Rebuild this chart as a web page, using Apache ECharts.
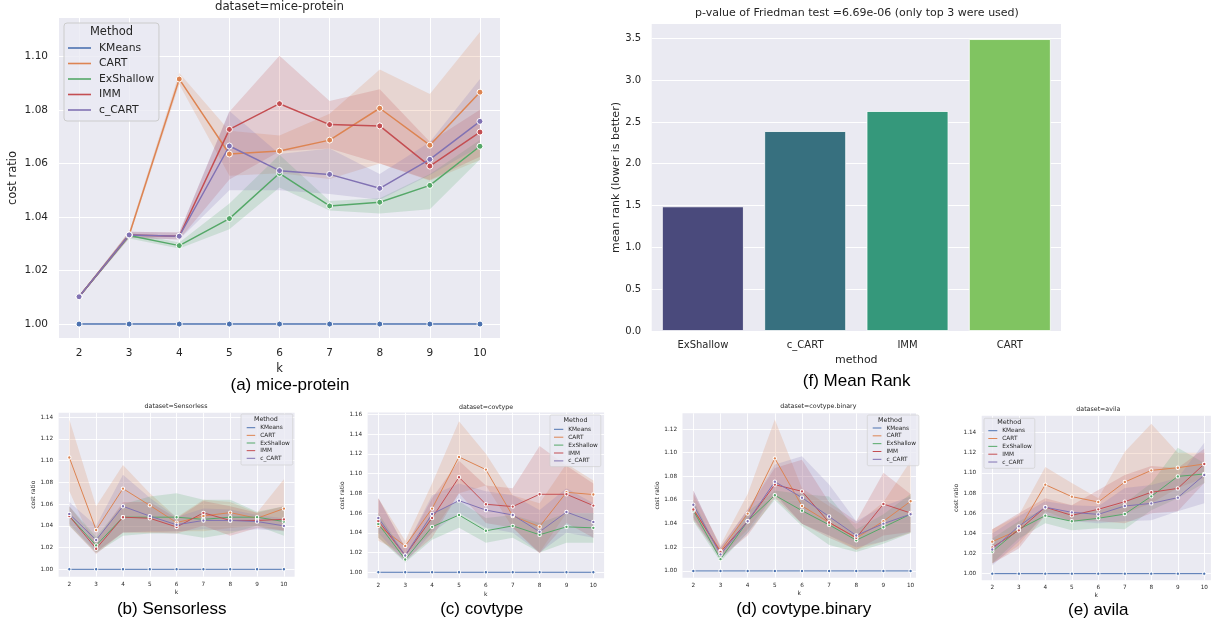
<!DOCTYPE html>
<html>
<head>
<meta charset="utf-8">
<script src="https://cdn.jsdelivr.net/npm/echarts@6/dist/echarts.min.js"></script>
<style>html,body{margin:0;padding:0;background:#ffffff}#chart{width:1219px;height:628px}</style>
</head>
<body>
<div id="chart"></div>
<script>
// ---------------- DATA ----------------
const kValues = [2, 3, 4, 5, 6, 7, 8, 9, 10];
const methods = ['KMeans', 'CART', 'ExShallow', 'IMM', 'c_CART'];
const kmeansCost = [1, 1, 1, 1, 1, 1, 1, 1, 1];

// (a) mice-protein
const miceTicks = [1.00, 1.02, 1.04, 1.06, 1.08, 1.10];
const miceCART = [1.0102, 1.0333, 1.0915, 1.0635, 1.0646, 1.0687, 1.0806, 1.0668, 1.0866];
const miceCARTLo = [1.0098, 1.0322, 1.0895, 1.0554, 1.0563, 1.0542, 1.0600, 1.0535, 1.0613];
const miceCARTHi = [1.0106, 1.0345, 1.0938, 1.0722, 1.0704, 1.0785, 1.0951, 1.0859, 1.1091];
const miceEx = [1.0102, 1.0331, 1.0293, 1.0394, 1.0563, 1.0441, 1.0455, 1.0518, 1.0664];
const miceExLo = [1.0098, 1.0320, 1.0282, 1.0354, 1.0510, 1.0424, 1.0413, 1.0429, 1.0615];
const miceExHi = [1.0106, 1.0342, 1.0305, 1.0450, 1.0632, 1.0460, 1.0470, 1.0560, 1.0687];
const miceIMM = [1.0102, 1.0333, 1.0328, 1.0727, 1.0823, 1.0745, 1.0740, 1.0590, 1.0717];
const miceIMMLo = [1.0098, 1.0322, 1.0316, 1.0540, 1.0644, 1.0656, 1.0600, 1.0538, 1.0625];
const miceIMMHi = [1.0106, 1.0345, 1.0342, 1.0793, 1.1002, 1.0833, 1.0877, 1.0681, 1.0800];
const miceCC = [1.0102, 1.0333, 1.0328, 1.0665, 1.0573, 1.0559, 1.0507, 1.0615, 1.0757];
const miceCCLo = [1.0098, 1.0322, 1.0316, 1.0500, 1.0500, 1.0486, 1.0464, 1.0557, 1.0663];
const miceCCHi = [1.0106, 1.0345, 1.0342, 1.0796, 1.0635, 1.0656, 1.0560, 1.0680, 1.0915];

// (b) Sensorless
const sensTicks = [1.00, 1.02, 1.04, 1.06, 1.08, 1.10, 1.12, 1.14];
const sensCART = [1.1029, 1.0362, 1.0743, 1.0589, 1.0430, 1.0491, 1.0522, 1.0470, 1.0559];
const sensCARTLo = [1.072, 1.016, 1.034, 1.034, 1.035, 1.035, 1.038, 1.040, 1.035];
const sensCARTHi = [1.138, 1.058, 1.096, 1.070, 1.048, 1.064, 1.062, 1.052, 1.083];
const sensEx = [1.049, 1.022, 1.048, 1.048, 1.048, 1.046, 1.048, 1.048, 1.044];
const sensExLo = [1.040, 1.015, 1.031, 1.033, 1.033, 1.029, 1.033, 1.040, 1.031];
const sensExHi = [1.058, 1.030, 1.060, 1.067, 1.070, 1.064, 1.064, 1.053, 1.058];
const sensIMM = [1.049, 1.019, 1.048, 1.047, 1.039, 1.052, 1.045, 1.045, 1.046];
const sensIMMLo = [1.040, 1.014, 1.034, 1.034, 1.033, 1.040, 1.031, 1.038, 1.036];
const sensIMMHi = [1.058, 1.027, 1.062, 1.062, 1.047, 1.063, 1.058, 1.052, 1.058];
const sensCC = [1.051, 1.027, 1.058, 1.049, 1.041, 1.045, 1.045, 1.044, 1.040];
const sensCCLo = [1.042, 1.016, 1.034, 1.035, 1.035, 1.037, 1.035, 1.037, 1.035];
const sensCCHi = [1.062, 1.040, 1.087, 1.066, 1.048, 1.056, 1.055, 1.050, 1.047];

// (c) covtype
const covTicks = [1.00, 1.02, 1.04, 1.06, 1.08, 1.10, 1.12, 1.14, 1.16];
const covCART = [1.047, 1.0267, 1.0645, 1.1168, 1.104, 1.057, 1.0462, 1.081, 1.0787];
const covCARTLo = [1.032, 1.018, 1.040, 1.080, 1.088, 1.045, 1.020, 1.060, 1.060];
const covCARTHi = [1.075, 1.032, 1.090, 1.153, 1.120, 1.078, 1.070, 1.110, 1.093];
const covEx = [1.049, 1.013, 1.046, 1.058, 1.042, 1.047, 1.038, 1.046, 1.045];
const covExLo = [1.035, 1.010, 1.033, 1.045, 1.030, 1.035, 1.020, 1.030, 1.030];
const covExHi = [1.060, 1.018, 1.060, 1.072, 1.055, 1.058, 1.050, 1.060, 1.060];
const covIMM = [1.052, 1.017, 1.055, 1.0962, 1.0689, 1.0665, 1.079, 1.079, 1.0675];
const covIMMLo = [1.035, 1.012, 1.035, 1.080, 1.050, 1.045, 1.019, 1.050, 1.035];
const covIMMHi = [1.075, 1.025, 1.075, 1.113, 1.088, 1.085, 1.128, 1.108, 1.090];
const covCC = [1.055, 1.017, 1.059, 1.0726, 1.063, 1.058, 1.041, 1.061, 1.051];
const covCCLo = [1.040, 1.010, 1.040, 1.060, 1.045, 1.040, 1.020, 1.040, 1.035];
const covCCHi = [1.075, 1.025, 1.078, 1.090, 1.082, 1.078, 1.063, 1.085, 1.070];

// (d) covtype.binary
const binTicks = [1.00, 1.02, 1.04, 1.06, 1.08, 1.10, 1.12];
const binCART = [1.052, 1.017, 1.0485, 1.0952, 1.055, 1.041, 1.028, 1.042, 1.0589];
const binCARTLo = [1.045, 1.012, 1.035, 1.065, 1.040, 1.030, 1.018, 1.025, 1.032];
const binCARTHi = [1.065, 1.022, 1.065, 1.128, 1.070, 1.055, 1.040, 1.058, 1.093];
const binEx = [1.051, 1.010, 1.042, 1.064, 1.051, 1.039, 1.026, 1.037, 1.048];
const binExLo = [1.042, 1.008, 1.032, 1.060, 1.038, 1.022, 1.016, 1.023, 1.032];
const binExHi = [1.060, 1.014, 1.050, 1.068, 1.065, 1.063, 1.035, 1.048, 1.065];
const binIMM = [1.052, 1.016, 1.042, 1.073, 1.0673, 1.041, 1.028, 1.0566, 1.049];
const binIMMLo = [1.043, 1.011, 1.030, 1.062, 1.040, 1.028, 1.018, 1.030, 1.033];
const binIMMHi = [1.068, 1.020, 1.052, 1.087, 1.094, 1.058, 1.042, 1.083, 1.065];
const binCC = [1.056, 1.014, 1.042, 1.0755, 1.062, 1.046, 1.030, 1.040, 1.048];
const binCCLo = [1.045, 1.010, 1.032, 1.065, 1.040, 1.030, 1.020, 1.025, 1.033];
const binCCHi = [1.068, 1.020, 1.052, 1.090, 1.097, 1.073, 1.042, 1.055, 1.063];

// (e) avila
const aviTicks = [1.00, 1.02, 1.04, 1.06, 1.08, 1.10, 1.12, 1.14];
const aviCART = [1.0318, 1.0434, 1.0884, 1.0765, 1.0712, 1.091, 1.1026, 1.1052, 1.1089];
const aviCARTLo = [1.010, 1.028, 1.062, 1.052, 1.055, 1.060, 1.070, 1.085, 1.095];
const aviCARTHi = [1.044, 1.058, 1.106, 1.090, 1.075, 1.121, 1.149, 1.120, 1.120];
const aviEx = [1.022, 1.044, 1.0576, 1.052, 1.055, 1.0592, 1.0768, 1.0966, 1.099];
const aviExLo = [1.010, 1.035, 1.050, 1.043, 1.045, 1.044, 1.063, 1.075, 1.090];
const aviExHi = [1.035, 1.052, 1.065, 1.060, 1.063, 1.070, 1.090, 1.125, 1.110];
const aviIMM = [1.026, 1.043, 1.066, 1.0579, 1.0639, 1.0715, 1.0808, 1.0847, 1.1089];
const aviIMMLo = [1.010, 1.025, 1.058, 1.052, 1.052, 1.050, 1.060, 1.062, 1.090];
const aviIMMHi = [1.044, 1.060, 1.075, 1.068, 1.083, 1.098, 1.107, 1.105, 1.124];
const aviCC = [1.024, 1.047, 1.066, 1.0609, 1.0589, 1.0672, 1.0698, 1.0755, 1.098];
const aviCCLo = [1.008, 1.032, 1.058, 1.052, 1.050, 1.052, 1.053, 1.062, 1.070];
const aviCCHi = [1.040, 1.057, 1.072, 1.068, 1.067, 1.085, 1.088, 1.095, 1.130];

// (f) Mean rank
const rankMethods = ['ExShallow', 'c_CART', 'IMM', 'CART'];
const meanRanks = [1.49, 2.39, 2.63, 3.49];
const rankTicks = [0, 0.5, 1.0, 1.5, 2.0, 2.5, 3.0, 3.5];

// ---------------- STYLE / LAYOUT ----------------
const FONT = '"DejaVu Sans", sans-serif';
const TXT = '#262626';
const methodColors = { KMeans: '#4c72b0', CART: '#dd8452', ExShallow: '#55a868', IMM: '#c44e52', c_CART: '#8172b3' };
const barColors = ['#4a4a7c', '#37707f', '#35987b', '#80c461'];

function rgba(hex, a) {
  const n = parseInt(hex.slice(1), 16);
  return 'rgba(' + ((n >> 16) & 255) + ',' + ((n >> 8) & 255) + ',' + (n & 255) + ',' + a + ')';
}

const panels = [
  { title: 'dataset=mice-protein', titleXY: [279.5, 6.5], caption: '(a) mice-protein', capXY: [290, 385.5],
    grid: { left: 59, top: 18, width: 441, height: 320 }, xMax: 10.4, yMin: 0.9948, yMax: 1.1143, ticks: miceTicks, big: true,
    lines: { CART: [miceCART, miceCARTLo, miceCARTHi], ExShallow: [miceEx, miceExLo, miceExHi], IMM: [miceIMM, miceIMMLo, miceIMMHi], c_CART: [miceCC, miceCCLo, miceCCHi] },
    yNameGap: 40, xNameGap: 25,
    legend: { left: 64, top: 23, pad: [19, 5, 5, 4], itemWidth: 23, lh: 12, gap: 3.5, fs: 10.8, textPad: 3, titleXY: [111.5, 32], titleFs: 11.5 } },
  { title: 'dataset=Sensorless', titleXY: [176, 406.3], caption: '(b) Sensorless', capXY: [171.7, 609.2],
    grid: { left: 58.6, top: 412.7, width: 236, height: 164 }, xMax: 10.4, yMin: 0.9932, yMax: 1.1442, ticks: sensTicks,
    lines: { CART: [sensCART, sensCARTLo, sensCARTHi], ExShallow: [sensEx, sensExLo, sensExHi], IMM: [sensIMM, sensIMMLo, sensIMMHi], c_CART: [sensCC, sensCCLo, sensCCHi] },
    yNameGap: 19, xNameGap: 12.8,
    legend: { left: 241, top: 414, pad: [10.45, 3, 3.45, 5.7], itemWidth: 8.5, lh: 6.5, gap: 1.15, fs: 5.8, textPad: 0, titleXY: [265.9, 419], titleFs: 6.4 } },
  { title: 'dataset=covtype', titleXY: [486, 407.8], caption: '(c) covtype', capXY: [481.7, 609.2],
    grid: { left: 367.6, top: 412.5, width: 236.5, height: 165.8 }, xMax: 10.4, yMin: 0.9939, yMax: 1.1618, ticks: covTicks,
    lines: { CART: [covCART, covCARTLo, covCARTHi], ExShallow: [covEx, covExLo, covExHi], IMM: [covIMM, covIMMLo, covIMMHi], c_CART: [covCC, covCCLo, covCCHi] },
    yNameGap: 21.3, xNameGap: 13.4,
    legend: { left: 550, top: 415, pad: [11.05, 3, 2.45, 4], itemWidth: 9.3, lh: 6.5, gap: 1.4, fs: 5.8, textPad: 0, titleXY: [575.5, 420.7], titleFs: 6.4 } },
  { title: 'dataset=covtype.binary', titleXY: [818.3, 406.3], caption: '(d) covtype.binary', capXY: [803.7, 609.7],
    grid: { left: 682.5, top: 413.3, width: 233.5, height: 164.4 }, xMax: 10.2, yMin: 0.9943, yMax: 1.1333, ticks: binTicks,
    lines: { CART: [binCART, binCARTLo, binCARTHi], ExShallow: [binEx, binExLo, binExHi], IMM: [binIMM, binIMMLo, binIMMHi], c_CART: [binCC, binCCLo, binCCHi] },
    yNameGap: 22, xNameGap: 12.3,
    legend: { left: 867.3, top: 415, pad: [9.75, 3, 3.15, 5.4], itemWidth: 8.7, lh: 6.5, gap: 1.33, fs: 5.8, textPad: 0, titleXY: [890, 420], titleFs: 6.4 } },
  { title: 'dataset=avila', titleXY: [1098.3, 409.5], caption: '(e) avila', capXY: [1098.3, 610.5],
    grid: { left: 981.7, top: 415.7, width: 229.2, height: 164.6 }, xMax: 10.25, yMin: 0.9934, yMax: 1.1569, ticks: aviTicks,
    lines: { CART: [aviCART, aviCARTLo, aviCARTHi], ExShallow: [aviEx, aviExLo, aviExHi], IMM: [aviIMM, aviIMMLo, aviIMMHi], c_CART: [aviCC, aviCCLo, aviCCHi] },
    yNameGap: 21, xNameGap: 12.2,
    legend: { left: 984, top: 418.3, pad: [9.15, 3, 3.05, 4.3], itemWidth: 9, lh: 6.5, gap: 1.33, fs: 5.8, textPad: 0, titleXY: [1009.3, 422.7], titleFs: 6.4 } }
];

const grids = [], xAxes = [], yAxes = [], legends = [], graphics = [];

function addText(text, xy, size, family, color) {
  graphics.push({ type: 'text', x: xy[0], y: xy[1], z: 100, silent: true,
    style: { text: text, font: 'normal ' + size + 'px ' + family, fill: color,
      align: 'center', verticalAlign: 'middle', textAlign: 'center', textVerticalAlign: 'middle' } });
}

const bandSeries = [], lineSeries = [];

panels.forEach(function (p, i) {
  const big = !!p.big;
  const tickFs = big ? 10.5 : 5.7;
  const nameFs = big ? 11.5 : 6;
  const gw = big ? 1 : 0.9;
  grids.push(Object.assign({ show: true, backgroundColor: '#eaeaf2', borderWidth: 0, containLabel: false }, p.grid));
  xAxes.push({ type: 'value', gridIndex: i, min: 1.6, max: p.xMax,
    axisLine: { show: false }, axisTick: { show: false, customValues: kValues },
    axisLabel: { customValues: kValues, fontSize: tickFs, color: TXT, fontFamily: FONT, margin: big ? 9.5 : 4.5, formatter: function (v) { return String(v); } },
    splitLine: { show: true, lineStyle: { color: '#ffffff', width: gw } },
    name: 'k', nameLocation: 'middle', nameGap: p.xNameGap, nameTextStyle: { fontSize: nameFs, color: TXT, fontFamily: FONT } });
  yAxes.push({ type: 'value', gridIndex: i, min: p.yMin, max: p.yMax,
    axisLine: { show: false }, axisTick: { show: false, customValues: p.ticks },
    axisLabel: { customValues: p.ticks, fontSize: tickFs, color: TXT, fontFamily: FONT, margin: big ? 11 : 5.5, formatter: function (v) { return v.toFixed(2); } },
    splitLine: { show: true, lineStyle: { color: '#ffffff', width: gw } },
    name: 'cost ratio', nameLocation: 'middle', nameGap: p.yNameGap, nameTextStyle: { fontSize: nameFs, color: TXT, fontFamily: FONT } });

  // confidence bands
  ['CART', 'ExShallow', 'IMM', 'c_CART'].forEach(function (m) {
    const lo = p.lines[m][1], hi = p.lines[m][2];
    bandSeries.push({ type: 'custom', name: m + ' band', xAxisIndex: i, yAxisIndex: i, silent: true, z: 1, clip: true,
      data: kValues.map(function (k, j) { return [k, lo[j], hi[j]]; }),
      encode: { x: 0, y: [1, 2] },
      renderItem: function (params, api) {
        if (params.dataIndex !== 0) return null;
        const top = kValues.map(function (k, j) { return api.coord([k, hi[j]]); });
        const bot = kValues.map(function (k, j) { return api.coord([k, lo[j]]); }).reverse();
        return { type: 'polygon', shape: { points: top.concat(bot) }, style: { fill: rgba(methodColors[m], 0.2), stroke: null } };
      } });
  });
  // lines
  methods.forEach(function (m) {
    const vals = m === 'KMeans' ? kmeansCost : p.lines[m][0];
    lineSeries.push({ type: 'line', name: m, xAxisIndex: i, yAxisIndex: i, z: 2,
      data: kValues.map(function (k, j) { return [k, vals[j]]; }),
      symbol: 'circle', symbolSize: big ? 6 : 3.4, showSymbol: true,
      lineStyle: { color: methodColors[m], width: big ? 1.5 : 1 },
      itemStyle: { color: methodColors[m], borderColor: '#ffffff', borderWidth: big ? 1 : 1 },
      emphasis: { disabled: true } });
  });

  const L = p.legend;
  legends.push({ data: methods, orient: 'vertical', left: L.left, top: L.top, padding: L.pad,
    itemWidth: L.itemWidth, itemHeight: big ? 1.6 : 1, itemGap: L.gap, icon: 'rect', selectedMode: false,
    backgroundColor: 'rgba(234,234,242,0.8)', borderColor: '#cccccc', borderWidth: big ? 1 : 0.6, borderRadius: big ? 3 : 1.5,
    itemStyle: { borderWidth: 0 },
    textStyle: { fontSize: L.fs, color: TXT, fontFamily: FONT, lineHeight: L.lh, padding: [0, 0, 0, L.textPad] } });
  addText('Method', L.titleXY, L.titleFs, FONT, TXT);
  addText(p.title, p.titleXY, big ? 11.8 : 6.3, FONT, TXT);
  addText(p.caption, p.capXY, 17, '"Liberation Sans", Arial, sans-serif', '#000000');
});

// (f) bar chart panel
const fi = panels.length;
grids.push({ show: true, backgroundColor: '#eaeaf2', borderWidth: 0, left: 651.7, top: 24, width: 409.3, height: 307 });
xAxes.push({ type: 'category', gridIndex: fi, data: rankMethods,
  axisLine: { show: false }, axisTick: { show: false }, splitLine: { show: false },
  axisLabel: { fontSize: 10, color: TXT, fontFamily: FONT, margin: 9 },
  name: 'method', nameLocation: 'middle', nameGap: 24, nameTextStyle: { fontSize: 11, color: TXT, fontFamily: FONT } });
yAxes.push({ type: 'value', gridIndex: fi, min: 0, max: 3.671,
  axisLine: { show: false }, axisTick: { show: false, customValues: rankTicks },
  axisLabel: { customValues: rankTicks, fontSize: 10, color: TXT, fontFamily: FONT, margin: 10.5, formatter: function (v) { return v.toFixed(1); } },
  splitLine: { show: true, lineStyle: { color: '#ffffff', width: 1 } },
  name: 'mean rank (lower is better)', nameLocation: 'middle', nameGap: 30.5, nameTextStyle: { fontSize: 11, color: TXT, fontFamily: FONT } });
const barSeries = { type: 'bar', name: 'mean rank', xAxisIndex: fi, yAxisIndex: fi, barCategoryGap: '20%',
  data: meanRanks.map(function (v, j) { return { value: v, itemStyle: { color: barColors[j] } }; }),
  itemStyle: { borderColor: '#ffffff', borderWidth: 0.8 }, emphasis: { disabled: true } };
addText('p-value of Friedman test =6.69e-06 (only top 3 were used)', [857, 13.3], 11, FONT, TXT);
addText('(f) Mean Rank', [856.7, 381.3], 17, '"Liberation Sans", Arial, sans-serif', '#000000');

const chart = echarts.init(document.getElementById('chart'), null, { renderer: 'canvas' });
chart.setOption({
  animation: false,
  backgroundColor: '#ffffff',
  textStyle: { fontFamily: FONT },
  grid: grids, xAxis: xAxes, yAxis: yAxes,
  legend: legends,
  series: bandSeries.concat(lineSeries).concat([barSeries]),
  graphic: { elements: graphics }
});
</script>
</body>
</html>
